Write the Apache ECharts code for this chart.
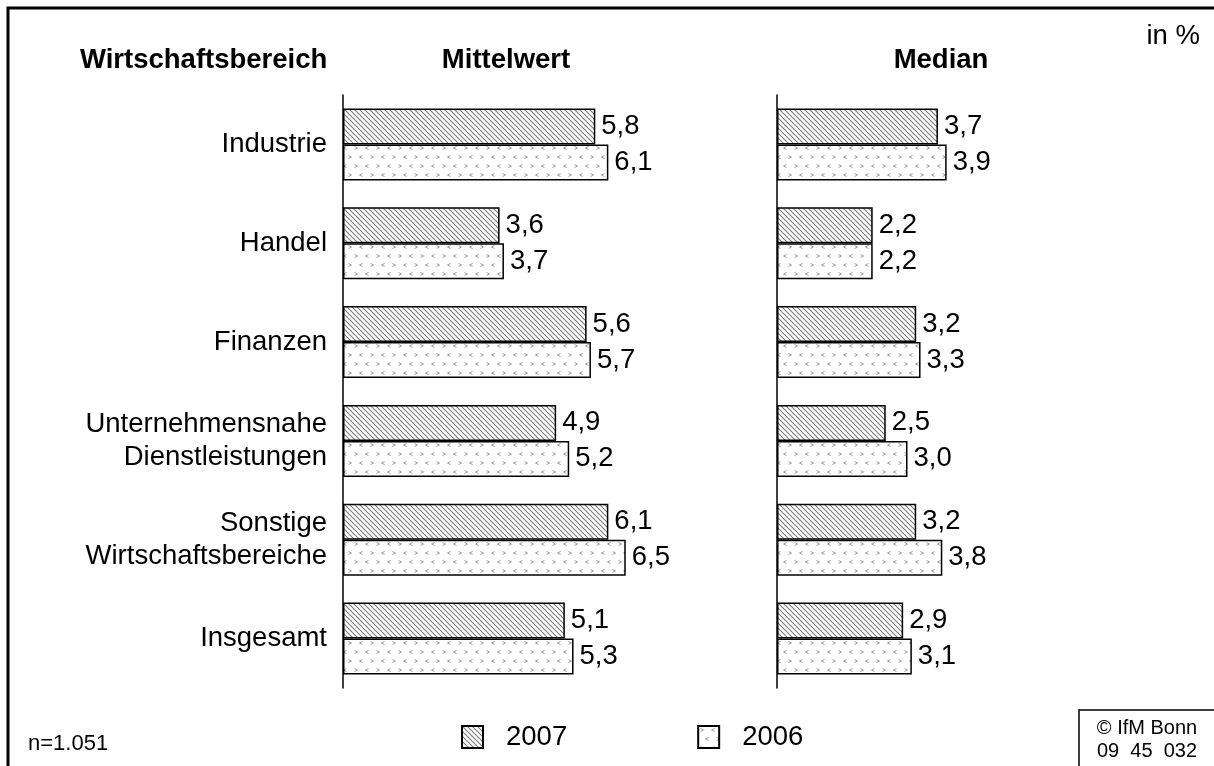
<!DOCTYPE html>
<html>
<head>
<meta charset="utf-8">
<script src="https://cdn.jsdelivr.net/npm/echarts@6/dist/echarts.min.js"></script>
<style>
	html, body { margin: 0; padding: 0; background: #fff; }
	#chart { width: 1214px; height: 766px; }
</style>
</head>
<body>
<div id="chart"></div>
<script>
var categories = ['Industrie', 'Handel', 'Finanzen', 'Unternehmensnahe\nDienstleistungen', 'Sonstige\nWirtschaftsbereiche', 'Insgesamt'];
var years = ['2007', '2006'];
var mittel2007 = [5.8, 3.6, 5.6, 4.9, 6.1, 5.1];
var mittel2006 = [6.1, 3.7, 5.7, 5.2, 6.5, 5.3];
var median2007 = [3.7, 2.2, 3.2, 2.5, 3.2, 2.9];
var median2006 = [3.9, 2.2, 3.3, 3.0, 3.8, 3.1];

(function(){
	var FONT = '"Liberation Sans", Arial, sans-serif';
	var FS = 27.5;

	// diagonal hatch for 2007
	function hatch() {
		var s = 5;
		var c = document.createElement('canvas');
		c.width = s; c.height = s;
		var g = c.getContext('2d');
		g.fillStyle = '#fff';
		g.fillRect(0, 0, s, s);
		g.strokeStyle = '#808080';
		g.lineWidth = 1.2;
		g.beginPath();
		g.moveTo(-1, -1); g.lineTo(s + 1, s + 1);
		g.moveTo(-1, s - 1); g.lineTo(1, s + 1);
		g.moveTo(s - 1, -1); g.lineTo(s + 1, 1);
		g.stroke();
		return c;
	}

	// small chevrons for 2006
	function chevrons() {
		var w = 22, h = 18;
		var c = document.createElement('canvas');
		c.width = w; c.height = h;
		var g = c.getContext('2d');
		g.fillStyle = '#fff';
		g.fillRect(0, 0, w, h);
		g.strokeStyle = '#a0a0a0';
		g.lineWidth = 1;
		function chev(x, y, dir) {
			g.beginPath();
			g.moveTo(x - dir * 1.5, y - 1.5);
			g.lineTo(x + dir * 1.5, y);
			g.lineTo(x - dir * 1.5, y + 1.5);
			g.stroke();
		}
		chev(4, 4, 1);
		chev(15, 4, -1);
		chev(9, 13, -1);
		chev(20, 13, 1);
		return c;
	}

	var pat2007 = { image: hatch(), repeat: 'repeat' };
	var pat2006 = { image: chevrons(), repeat: 'repeat' };

	function fmt(p) {
		return p.value.toFixed(1).replace('.', ',');
	}

	var barLabel = {
		show: true,
		position: 'right',
		distance: 6,
		formatter: fmt,
		color: '#000',
		fontSize: FS,
		fontFamily: FONT
	};

	function bars(name, data, idx, pat) {
		return {
			name: name,
			type: 'bar',
			xAxisIndex: idx,
			yAxisIndex: idx,
			data: data,
			barWidth: 36,
			barGap: '0%',
			itemStyle: { color: pat, borderColor: '#000', borderWidth: 1.5 },
			label: barLabel,
			emphasis: { disabled: true }
		};
	}

	var myChart = echarts.init(document.getElementById('chart'));
	var option = {
		animation: false,
		backgroundColor: '#fff',
		textStyle: { fontFamily: FONT },
		grid: [
			{ left: 343, top: 95, width: 435, height: 593 },
			{ left: 777, top: 95, width: 435, height: 593 }
		],
		xAxis: [
			{ gridIndex: 0, type: 'value', min: 0, max: 10, show: false },
			{ gridIndex: 1, type: 'value', min: 0, max: 10, show: false }
		],
		yAxis: [
			{
				gridIndex: 0, type: 'category', inverse: true, data: categories,
				axisLine: { lineStyle: { color: '#000', width: 1.5 } },
				axisTick: { show: false },
				axisLabel: { color: '#000', fontSize: FS, lineHeight: 33, margin: 16, fontFamily: FONT, align: 'right' }
			},
			{
				gridIndex: 1, type: 'category', inverse: true, data: categories,
				axisLine: { lineStyle: { color: '#000', width: 1.5 } },
				axisTick: { show: false },
				axisLabel: { show: false }
			}
		],
		legend: {
			data: years,
			left: 461,
			top: 723,
			padding: 0,
			itemWidth: 21,
			itemHeight: 22,
			itemGap: 130,
			icon: 'rect',
			selectedMode: false,
			textStyle: { color: '#000', fontSize: FS, fontFamily: FONT, padding: [0, 0, 0, 18] }
		},
		series: [
			bars('2007', mittel2007, 0, pat2007),
			bars('2006', mittel2006, 0, pat2006),
			bars('2007', median2007, 1, pat2007),
			bars('2006', median2006, 1, pat2006)
		],
		graphic: [
			{ type: 'rect', shape: { x: 8, y: 8, width: 1400, height: 1000 }, style: { fill: 'none', stroke: '#000', lineWidth: 3 }, silent: true },
			{ type: 'rect', shape: { x: 1079, y: 710, width: 300, height: 200 }, style: { fill: 'none', stroke: '#000', lineWidth: 1.5 }, silent: true },
			{ type: 'text', x: 80, y: 60, style: { text: 'Wirtschaftsbereich', font: 'bold ' + FS + 'px ' + FONT, fill: '#000', textVerticalAlign: 'middle' } },
			{ type: 'text', x: 506, y: 60, style: { text: 'Mittelwert', font: 'bold ' + FS + 'px ' + FONT, fill: '#000', textAlign: 'center', textVerticalAlign: 'middle' } },
			{ type: 'text', x: 941, y: 60, style: { text: 'Median', font: 'bold ' + FS + 'px ' + FONT, fill: '#000', textAlign: 'center', textVerticalAlign: 'middle' } },
			{ type: 'text', x: 1200, y: 36, style: { text: 'in %', font: FS + 'px ' + FONT, fill: '#000', textAlign: 'right', textVerticalAlign: 'middle' } },
			{ type: 'text', x: 28, y: 744, style: { text: 'n=1.051', font: '22px ' + FONT, fill: '#000', textVerticalAlign: 'middle' } },
			{ type: 'text', x: 1147, y: 728, style: { text: '© IfM Bonn', font: '20px ' + FONT, fill: '#000', textAlign: 'center', textVerticalAlign: 'middle' } },
			{ type: 'text', x: 1147, y: 751, style: { text: '09  45  032', font: '20px ' + FONT, fill: '#000', textAlign: 'center', textVerticalAlign: 'middle' } }
		]
	};
	myChart.setOption(option);
})();
</script>
</body>
</html>
